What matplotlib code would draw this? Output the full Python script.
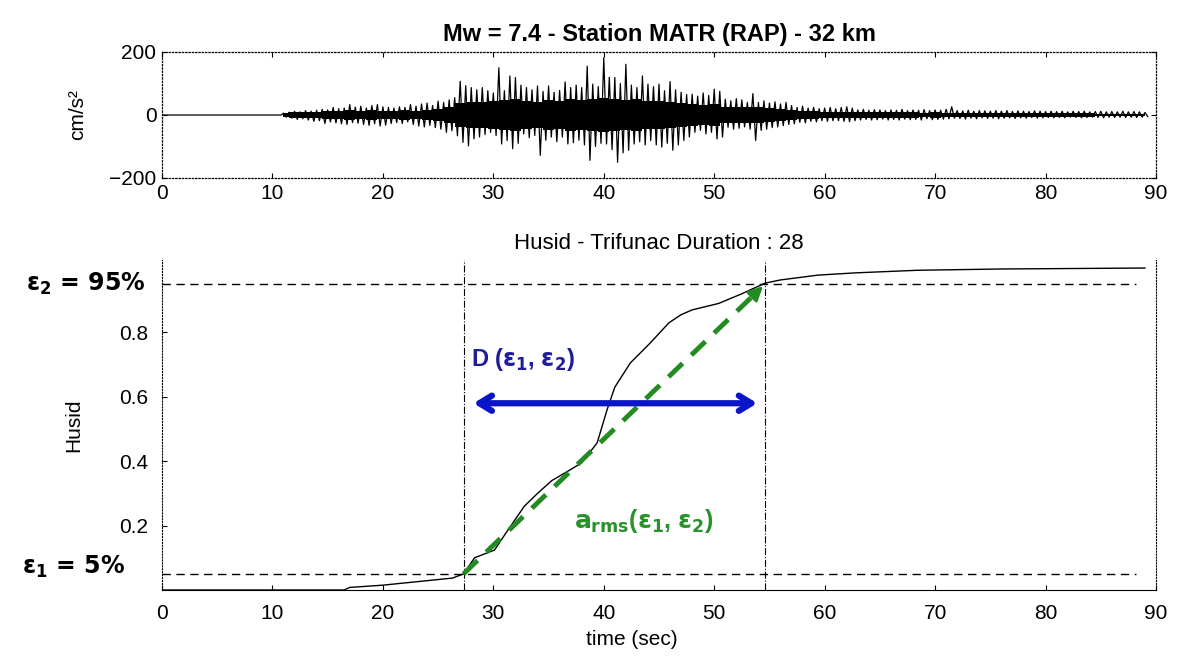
import numpy as np
import matplotlib.pyplot as plt

plt.rcParams['font.family'] = ['Liberation Sans', 'DejaVu Sans']
plt.rcParams['mathtext.fontset'] = 'custom'
plt.rcParams['mathtext.rm'] = 'DejaVu Sans:bold'
plt.rcParams['mathtext.it'] = 'DejaVu Sans:bold'
plt.rcParams['mathtext.bf'] = 'DejaVu Sans:bold'

# accelerogram: peak values read per 0.5 s, from 11 s to 89 s (cm/s2)
acc_t0 = 11.0
acc_dt = 0.5
acc_pos = [6, 9, 12, 10, 14, 12, 15, 18, 16, 24,
           20, 22, 33, 25, 28, 22, 30, 33, 26, 24,
           22, 26, 24, 33, 28, 35, 38, 30, 44, 40,
           48, 55, 107, 93, 87, 80, 87, 77, 70, 150,
           77, 124, 119, 95, 87, 80, 92, 75, 92, 72,
           78, 105, 87, 95, 87, 155, 98, 90, 182, 120,
           119, 100, 161, 95, 87, 124, 98, 90, 98, 77,
           106, 80, 72, 65, 66, 60, 70, 62, 82, 75,
           50, 45, 52, 48, 40, 68, 40, 45, 38, 42,
           35, 40, 30, 24, 28, 22, 24, 20, 22, 24,
           20, 24, 26, 22, 16, 18, 15, 17, 16, 14,
           16, 15, 18, 14, 16, 15, 17, 14, 16, 15,
           18, 26, 14, 13, 15, 12, 14, 13, 12, 14,
           12, 14, 11, 13, 12, 11, 13, 12, 11, 12,
           11, 12, 10, 12, 11, 12, 10, 11, 12, 10,
           11, 10, 12, 10, 11, 10, 8]
acc_neg = [-7, -10, -14, -12, -16, -20, -18, -27, -22, -25,
           -28, -30, -24, -26, -30, -33, -28, -35, -32, -27,
           -24, -27, -22, -30, -35, -38, -33, -40, -45, -55,
           -50, -66, -87, -98, -76, -70, -62, -55, -65, -92,
           -81, -107, -90, -60, -72, -65, -128, -80, -70, -85,
           -70, -92, -88, -80, -95, -144, -100, -90, -92, -110,
           -150, -120, -112, -92, -85, -95, -81, -95, -102, -90,
           -112, -95, -81, -70, -55, -49, -60, -55, -76, -70,
           -39, -45, -42, -38, -45, -81, -49, -45, -40, -38,
           -34, -30, -28, -23, -25, -20, -22, -18, -20, -18,
           -18, -20, -21, -18, -16, -14, -16, -15, -13, -16,
           -14, -16, -13, -15, -14, -16, -12, -15, -14, -13,
           -12, -10, -11, -13, -10, -12, -9, -11, -10, -12,
           -10, -9, -11, -9, -10, -8, -10, -9, -8, -9,
           -8, -9, -7, -8, -9, -8, -7, -8, -9, -7,
           -8, -7, -8, -7, -8, -7, -5]
# half-width of the solid black core of the trace, per 1 s from 11 s to 89 s
acc_core = [5, 8, 10, 11, 12, 13, 15, 14, 15, 14,
            14, 15, 14, 17, 19, 24, 38, 42, 40, 46,
            47, 50, 44, 42, 49, 46, 50, 48, 52, 54,
            52, 48, 50, 46, 44, 42, 38, 34, 32, 34,
            26, 24, 26, 24, 21, 19, 16, 13, 12, 11,
            11, 10, 10, 9, 9, 8, 8, 8, 7, 8,
            7, 7, 6, 6, 6, 6, 5, 5, 5, 5,
            5, 5, 5, 5, 4, 4, 4, 4, 4]

# Husid (normalised Arias intensity) curve
husid_t = [0, 16.5, 17, 20, 22, 26.3, 27.3, 28.3, 30.1, 31.2, 32.8, 34.0,
           35.3, 36.8, 38, 39.4, 40.3, 41, 42.4, 44.2, 45.9, 47.0, 48, 50.4,
           52.5, 54.6, 56, 59.4, 62.8, 68.4, 76, 89]
husid_v = [0, 0, 0.008, 0.015, 0.022, 0.037, 0.05, 0.10, 0.124, 0.18, 0.26,
           0.30, 0.34, 0.37, 0.395, 0.457, 0.56, 0.63, 0.705, 0.767, 0.83,
           0.855, 0.87, 0.89, 0.92, 0.953, 0.963, 0.978, 0.985, 0.993, 0.997,
           1.0]

eps1, eps2 = 0.05, 0.95
t_eps1, t_eps2 = 27.3, 54.6
duration = 28

fig = plt.figure(figsize=(11.79, 6.59), dpi=100)

# ---- top: accelerogram
ax1 = fig.add_axes([0.1374, 0.7299, 0.8431, 0.1912])
n = len(acc_pos)
t = acc_t0 + acc_dt * np.arange(n)
xs = np.empty(2 * n)
ys = np.empty(2 * n)
xs[0::2] = t
xs[1::2] = t + acc_dt / 2
ys[0::2] = acc_pos
ys[1::2] = acc_neg
xs = np.concatenate([[0, acc_t0 - 0.2], xs])
ys = np.concatenate([[0, 0], ys])
tc = acc_t0 + np.arange(len(acc_core))
core = np.array(acc_core)
ax1.fill_between(tc, -core, core, step='mid', color='black', lw=0)
ax1.plot(xs, ys, color='black', lw=0.9)
ax1.set_xlim(0, 90)
ax1.set_ylim(-200, 200)
ax1.set_xticks(range(0, 91, 10))
ax1.set_yticks([-200, 0, 200])
ax1.set_yticklabels(['\u2212200', '0', '200'])
ax1.tick_params(direction='in', top=True, right=True, labelsize=15, pad=4)
for s in ax1.spines.values():
    s.set_linestyle(':')
    s.set_linewidth(0.9)
ax1.set_ylabel('cm/s\u00b2', fontsize=15, labelpad=16)
ax1.set_title('Mw = 7.4 - Station MATR (RAP) - 32 km', fontsize=17,
              fontweight='bold', pad=8)

# ---- bottom: Husid plot
ax2 = fig.add_axes([0.1374, 0.1047, 0.8431, 0.5008])
ax2.plot(husid_t, husid_v, color='black', lw=1.0)
ax2.hlines([eps1, eps2], 0, 88.2, colors='black', linestyles=(0, (6, 4)), lw=1.0)
ax2.axvline(t_eps1, color='black', lw=0.8, linestyle='-.')
ax2.axvline(t_eps2, color='black', lw=0.8, linestyle='-.')

green = '#228b22'
ax2.plot([t_eps1, t_eps2 - 0.6], [eps1, eps2 - 0.02], color=green, lw=3.5,
         linestyle=(0, (4, 2.5)))
ax2.annotate('', xy=(t_eps2, eps2), xytext=(t_eps2 - 1.2, eps2 - 0.04),
             arrowprops=dict(arrowstyle='-|>', color=green, lw=2,
                             mutation_scale=22))
ax2.annotate('', xy=(28.2, 0.58), xytext=(53.9, 0.58),
             arrowprops=dict(arrowstyle='<->, head_length=0.9, head_width=0.55',
                             color='#0a14c8', lw=4.5, shrinkA=0, shrinkB=0))
ax2.text(28.0, 0.715, r'D ($\varepsilon_1$, $\varepsilon_2$)', color='#1e1e9c',
         fontsize=17, fontweight='bold', va='center')
ax2.text(37.3, 0.215, r'$a_{rms}$($\varepsilon_1$, $\varepsilon_2$)', color='#2a922a',
         fontsize=18, fontweight='bold', va='center')

ax2.set_xlim(0, 90)
ax2.set_ylim(0, 1.025)
ax2.set_xticks(range(0, 91, 10))
ax2.set_yticks([0.2, 0.4, 0.6, 0.8])
ax2.tick_params(direction='in', labelsize=15, pad=10)
ax2.spines['top'].set_visible(False)
ax2.spines['left'].set_linestyle(':')
ax2.spines['right'].set_linestyle(':')
ax2.set_ylabel('Husid', fontsize=15, labelpad=26)
ax2.set_xlabel('time (sec)', fontsize=15)
ax2.xaxis.set_label_coords(0.473, -0.12)
ax2.set_title('Husid - Trifunac Duration : %d' % duration, fontsize=16, pad=8)

ytr = ax2.get_yaxis_transform()
ax2.text(-0.017, eps2, r'$\varepsilon_2$ = 95%', transform=ytr, ha='right',
         va='center', fontsize=17, fontweight='bold', family='DejaVu Sans')
ax2.text(-0.037, 0.071, r'$\varepsilon_1$ = 5%', transform=ytr, ha='right',
         va='center', fontsize=17, fontweight='bold', family='DejaVu Sans')

fig.savefig('out.png', dpi=100)
